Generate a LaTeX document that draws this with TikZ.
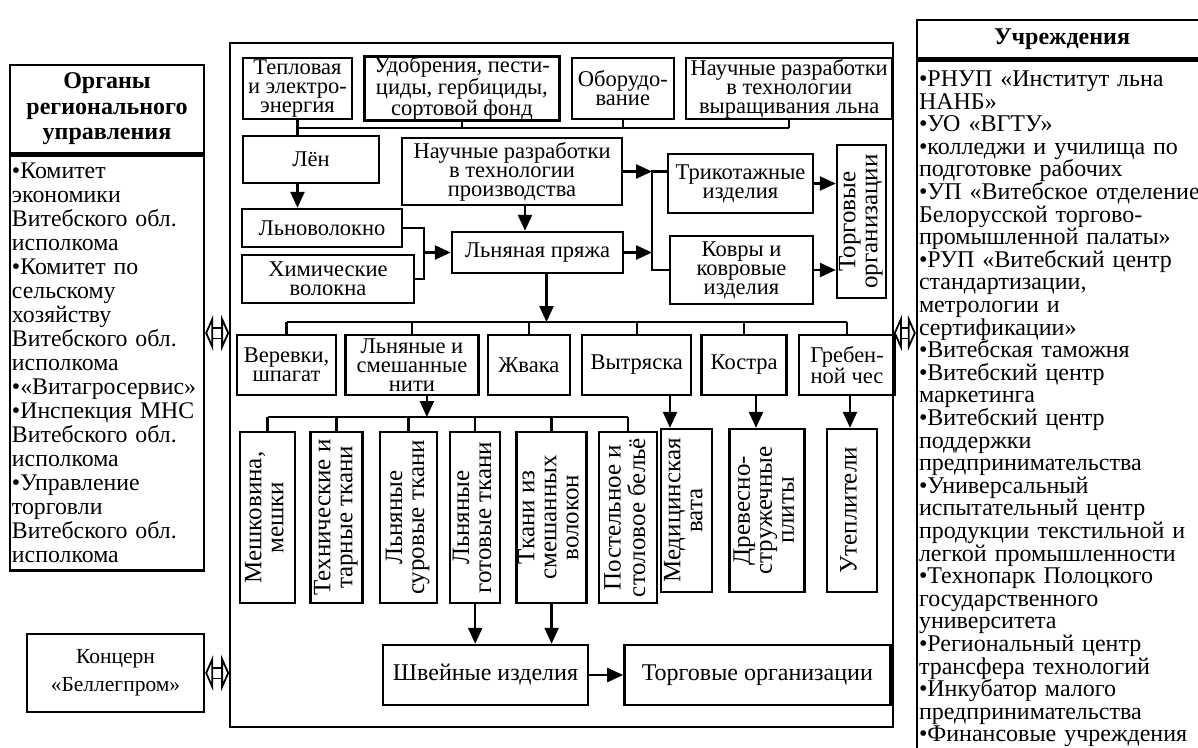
\documentclass[tikz,border=0pt]{standalone}
\usepackage{fontspec}
\setmainfont{Liberation Serif}
\usepackage{graphicx}
\usetikzlibrary{arrows.meta}
\usetikzlibrary{positioning}
\tikzstyle{blk} = [draw, line width=2.4pt, inner sep=0pt, align=center, font=\fontsize{22.5}{19}\selectfont]
\tikzstyle{vblk} = [blk, font=\fontsize{25}{22}\selectfont]
\tikzstyle{hdr} = [draw, line width=2.4pt, inner sep=0pt, align=center, font=\fontsize{24}{25.5}\selectfont\bfseries]
\tikzstyle{lst} = [draw, line width=2.4pt, inner xsep=2pt, inner ysep=0pt, align=left]
\tikzstyle{ln} = [line width=2.4pt]
\tikzstyle{arr} = [line width=2.4pt, -{Triangle[length=16pt,width=14pt]}]
\tikzstyle{dblarrow} = [line width=1.8pt, double distance=9pt, {Triangle[open,length=8pt,width=36pt]}-{Triangle[open,length=8pt,width=36pt]}]
\newcommand{\vtxt}[1]{\rotatebox{90}{\begin{tabular}{@{}c@{}}#1\end{tabular}}}

\begin{document}
\begin{tikzpicture}[x=1pt, y=-1pt]
  \useasboundingbox (0,0) rectangle (1198,747);

  % central frame
  \node[draw, line width=1.6pt, minimum width=663pt, minimum height=684pt, inner sep=0pt] (frame) at (561.5,385) {};

  % resources
  \node[blk, minimum width=109pt, minimum height=61pt] (teplo) at (297.5,88.5) {Тепловая\\и электро-\\энергия};
  \node[blk, minimum width=195pt, minimum height=61pt, right=10pt of teplo] (udobr) {Удобрения, пести-\\циды, гербициды,\\сортовой фонд};
  \node[blk, minimum width=102pt, minimum height=61pt, right=10pt of udobr] (oborud) {Оборудо-\\вание};
  \node[blk, minimum width=206pt, minimum height=61pt, right=10pt of oborud] (nauchvyr) {Научные разработки\\в технологии\\выращивания льна};

  % flax and yarn
  \node[blk, minimum width=136pt, minimum height=47pt] (len) at (311,159.5) {Лён};
  \node[blk, minimum width=220pt, minimum height=67pt] (nauchpr) at (512,171.5) {Научные разработки\\в технологии\\производства};
  \node[blk, minimum width=160pt, minimum height=38pt] (lnovol) at (322,228) {Льноволокно};
  \node[blk, minimum width=172pt, minimum height=48pt] (himvol) at (328,279) {Химические\\волокна};
  \node[blk, minimum width=171pt, minimum height=41pt] (pryazha) at (537.5,252.5) {Льняная пряжа};
  \node[blk, minimum width=145pt, minimum height=59pt] (trikot) at (740.5,183.5) {Трикотажные\\изделия};
  \node[blk, minimum width=143pt, minimum height=68pt] (kovry) at (741.5,270) {Ковры и\\ковровые\\изделия};
  \node[vblk, minimum width=49pt, minimum height=153pt] (torgA) at (861.5,221.5) {\vtxt{Торговые\\организации}};

  % products of yarn
  \node[blk, minimum width=99pt, minimum height=60pt] (verevki) at (286.5,365) {Веревки,\\шпагат};
  \node[blk, minimum width=133pt, minimum height=60pt, right=7pt of verevki] (niti) {Льняные и\\смешанные\\нити};
  \node[blk, minimum width=82pt, minimum height=60pt, right=7pt of niti] (zhvaka) {Жвака};
  \node[blk, minimum width=109pt, minimum height=60pt, right=10pt of zhvaka] (vytr) {Вытряска};
  \node[blk, minimum width=85pt, minimum height=60pt, right=8pt of vytr] (kostra) {Костра};
  \node[blk, minimum width=96pt, minimum height=60pt, right=10pt of kostra] (greben) {Гребен-\\ной чес};

  % fabrics
  \node[vblk, minimum width=55pt, minimum height=171pt] (meshk) at (267.5,517.5) {\vtxt{Мешковина,\\мешки}};
  \node[vblk, minimum width=52pt, minimum height=171pt, right=13pt of meshk] (tehn) {\vtxt{Технические и\\тарные ткани}};
  \node[vblk, minimum width=57pt, minimum height=171pt, right=15pt of tehn] (surov) {\vtxt{Льняные\\суровые ткани}};
  \node[vblk, minimum width=50pt, minimum height=171pt, right=11pt of surov] (gotov) {\vtxt{Льняные\\готовые ткани}};
  \node[vblk, minimum width=70pt, minimum height=171pt, right=14pt of gotov] (smesh) {\vtxt{Ткани из\\смешанных\\волокон}};
  \node[vblk, minimum width=58pt, minimum height=171pt, right=10pt of smesh] (postel) {\vtxt{Постельное и\\столовое бельё}};
  \node[vblk, minimum width=51pt, minimum height=163pt] (medvata) at (686.5,510.5) {\vtxt{Медицинская\\вата}};
  \node[vblk, minimum width=75pt, minimum height=163pt, right=15pt of medvata] (drevesn) {\vtxt{Древесно-\\стружечные\\плиты}};
  \node[vblk, minimum width=50pt, minimum height=163pt, right=20pt of drevesn] (uteplit) {\vtxt{Утеплители}};

  \node[blk, minimum width=205pt, minimum height=60pt, font=\fontsize{24}{19}\selectfont] (shv) at (485.5,675) {Швейные изделия};
  \node[blk, minimum width=266pt, minimum height=60pt, font=\fontsize{24}{19}\selectfont, right=34pt of shv] (torgB) {Торговые организации};

  % outer partners
  \node[hdr, minimum width=194pt, minimum height=88pt] (lhead) at (107,109) {Органы\\регионального\\управления};
  \node[lst, minimum width=194pt, minimum height=415pt, text width=190pt, font=\fontsize{23.8}{24}\selectfont, below=0pt of lhead] (lbody) {%
    •Комитет\\экономики\\Витебского обл.\\исполкома\\•Комитет по\\сельскому\\хозяйству\\Витебского обл.\\исполкома\\•«Витагросервис»\\•Инспекция МНС\\Витебского обл.\\исполкома\\•Управление\\торговли\\Витебского обл.\\исполкома};
  \node[blk, minimum width=177pt, minimum height=78pt, font=\fontsize{21.5}{28}\selectfont] (belleg) at (115.5,673) {Концерн\\«Беллегпром»};

  \node[hdr, minimum width=290pt, minimum height=38pt] (rhead) at (1062,39) {Учреждения};
  \node[lst, minimum width=324pt, minimum height=697pt, text width=320pt, font=\fontsize{24}{22.6}\selectfont, below=0pt of rhead.south west, anchor=north west] (rbody) {%
    •РНУП «Институт льна\\НАНБ»\\•УО «ВГТУ»\\•колледжи и училища по\\подготовке рабочих\\•УП «Витебское отделение\\Белорусской торгово-\\промышленной палаты»\\•РУП «Витебский центр\\стандартизации,\\метрологии и\\сертификации»\\•Витебская таможня\\•Витебский центр\\маркетинга\\•Витебский центр\\поддержки\\предпринимательства\\•Универсальный\\испытательный центр\\продукции текстильной и\\легкой промышленности\\•Технопарк Полоцкого\\государственного\\университета\\•Региональный центр\\трансфера технологий\\•Инкубатор малого\\предпринимательства\\•Финансовые учреждения};

  % top bus
  \coordinate (busT) at (0,128);
  \draw[ln] (teplo.south) -- (teplo.south |- len.north);
  \foreach \n in {udobr,oborud,nauchvyr}
    \draw[ln] (\n.south) -- (\n.south |- busT);
  \draw[ln] (teplo.south |- busT) -- (nauchvyr.south |- busT);

  \draw[arr] (teplo.south |- len.south) -- (teplo.south |- lnovol.north);
  \coordinate (jL) at (424,0);
  \draw[ln] (lnovol.east) -- (lnovol.east -| jL) -- (himvol.east -| jL) -- (himvol.east);
  \draw[arr] (pryazha.west -| jL) -- (pryazha.west);
  \draw[arr] ([xshift=13pt]nauchpr.south) -- ([xshift=13pt]nauchpr.south |- pryazha.north);

  \coordinate (jR) at (652,0);
  \draw[arr] (nauchpr.east) -- (nauchpr.east -| jR);
  \draw[arr] (pryazha.east) -- (pryazha.east -| jR);
  \draw[ln] (trikot.west |- nauchpr.east) -- (jR |- nauchpr.east) -- (jR |- kovry.west) -- (kovry.west);
  \draw[arr] (trikot.east) -- (trikot.east -| torgA.west);
  \draw[arr] (kovry.east) -- (kovry.east -| torgA.west);

  % middle bus
  \coordinate (busM) at (0,322);
  \draw[arr] ([xshift=9pt]pryazha.south) -- ([xshift=9pt]pryazha.south |- busM);
  \foreach \n in {verevki,niti,zhvaka,vytr,kostra,greben}
    \draw[ln] (\n.north) -- (\n.north |- busM);
  \draw[ln] (verevki.north |- busM) -- (greben.north |- busM);

  % lower bus
  \coordinate (busN) at (0,417);
  \draw[arr] ([xshift=15pt]niti.south) -- ([xshift=15pt]niti.south |- busN);
  \foreach \n in {meshk,tehn,surov,gotov,smesh,postel}
    \draw[ln] (\n.north) -- (\n.north |- busN);
  \draw[ln] (meshk.north |- busN) -- (postel.north |- busN);

  \coordinate (aV) at (670,0);
  \coordinate (aK) at (756,0);
  \coordinate (aG) at (850,0);
  \draw[arr] (aV |- vytr.south) -- (aV |- medvata.north);
  \draw[arr] (aK |- kostra.south) -- (aK |- drevesn.north);
  \draw[arr] (aG |- greben.south) -- (aG |- uteplit.north);

  \draw[arr] (gotov.south) -- (gotov.south |- shv.north);
  \draw[arr] (smesh.south) -- (smesh.south |- shv.north);
  \draw[arr] (shv) -- (torgB);

  % links to partners
  \coordinate (dA) at (0,333);
  \draw[dblarrow] (lbody.east |- dA) -- (frame.west |- dA);
  \draw[dblarrow] (frame.east |- dA) -- (rbody.west |- dA);
  \draw[dblarrow] (belleg.east) -- (frame.west |- belleg.east);
\end{tikzpicture}
\end{document}
